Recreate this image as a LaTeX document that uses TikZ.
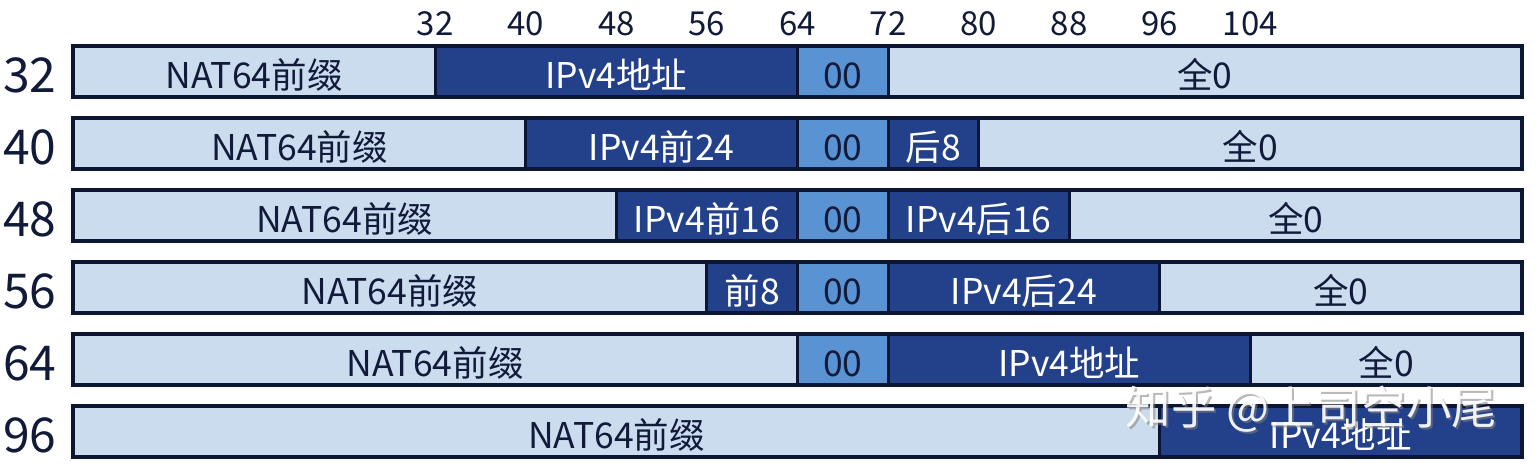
\documentclass[tikz,border=0pt]{standalone}
\usepackage{fontspec}
\setmainfont{Noto Sans CJK SC}
\definecolor{light}{HTML}{CCDCEF}
\definecolor{dark}{HTML}{23408B}
\definecolor{mid}{HTML}{5A93D3}
\definecolor{edge}{HTML}{0C1532}
\definecolor{ink}{HTML}{111A38}
\tikzset{
  cell/.style={draw=edge, line width=3pt, minimum height=51pt, inner sep=0pt, outer sep=0pt,
    anchor=west, text height=33pt, text depth=0pt, font=\fontsize{35.5}{35.5}\selectfont},
  lt/.style={cell, fill=light, text=ink},
  dk/.style={cell, fill=dark, text=white},
  md/.style={cell, fill=mid, text=ink},
  rowlab/.style={anchor=base, text=ink, font=\fontsize{48}{48}\selectfont},
  toplab/.style={anchor=base, text=ink, font=\fontsize{33}{33}\selectfont},
  outline/.style={draw=edge, line width=4pt},
}
\newcommand\cellat[6]{%
  \pgfmathsetmacro\cxa{73+#3*11.3203}%
  \pgfmathsetmacro\cwd{(#4-#3)*11.3203}%
  \pgfmathsetmacro\cyy{71.5+#2*72}%
  \node[#5, minimum width=\cwd pt] (#1) at (\cxa,\cyy) {#6};%
}
\begin{document}
\begin{tikzpicture}[x=1pt,y=-1pt]
\useasboundingbox[fill=white] (0,0) rectangle (1535,471);
% top bit numbers
\foreach \b in {32,40,48,56,64,72,80,88,96,104}{
  \node[toplab] (t\b) at ({73+\b*11.3203},35) {\b};
}
% row labels
\foreach \r/\i in {32/0,40/1,48/2,56/3,64/4,96/5}{
  \node[rowlab] (l\r) at (30,{71.5+\i*72+21}) {\r};
}
% row 32
\cellat{a1}{0}{0}{32}{lt}{NAT64前缀}
\cellat{a2}{0}{32}{64}{dk}{IPv4地址}
\cellat{a3}{0}{64}{72}{md}{00}
\cellat{a4}{0}{72}{128}{lt}{全0}
\draw[outline] (a1.north west) rectangle (a4.south east);
% row 40
\cellat{b1}{1}{0}{40}{lt}{NAT64前缀}
\cellat{b2}{1}{40}{64}{dk}{IPv4前24}
\cellat{b3}{1}{64}{72}{md}{00}
\cellat{b4}{1}{72}{80}{dk}{后8}
\cellat{b5}{1}{80}{128}{lt}{全0}
\draw[outline] (b1.north west) rectangle (b5.south east);
% row 48
\cellat{c1}{2}{0}{48}{lt}{NAT64前缀}
\cellat{c2}{2}{48}{64}{dk}{IPv4前16}
\cellat{c3}{2}{64}{72}{md}{00}
\cellat{c4}{2}{72}{88}{dk}{IPv4后16}
\cellat{c5}{2}{88}{128}{lt}{全0}
\draw[outline] (c1.north west) rectangle (c5.south east);
% row 56
\cellat{d1}{3}{0}{56}{lt}{NAT64前缀}
\cellat{d2}{3}{56}{64}{dk}{前8}
\cellat{d3}{3}{64}{72}{md}{00}
\cellat{d4}{3}{72}{96}{dk}{IPv4后24}
\cellat{d5}{3}{96}{128}{lt}{全0}
\draw[outline] (d1.north west) rectangle (d5.south east);
% row 64
\cellat{e1}{4}{0}{64}{lt}{NAT64前缀}
\cellat{e2}{4}{64}{72}{md}{00}
\cellat{e3}{4}{72}{104}{dk}{IPv4地址}
\cellat{e4}{4}{104}{128}{lt}{全0}
\draw[outline] (e1.north west) rectangle (e4.south east);
% row 96
\cellat{f1}{5}{0}{96}{lt}{NAT64前缀}
\cellat{f2}{5}{96}{128}{dk}{IPv4地址}
\draw[outline] (f1.north west) rectangle (f2.south east);
% watermark
\node[anchor=base west, text=gray, opacity=0.55, font=\fontsize{45.5}{45.5}\selectfont] (wms) at (1124,426) {知乎 @上司空小尾};
\node[anchor=base west, text=white, opacity=0.92, font=\fontsize{45.5}{45.5}\selectfont] (wm) at (1122,424) {知乎 @上司空小尾};
\end{tikzpicture}
\end{document}
